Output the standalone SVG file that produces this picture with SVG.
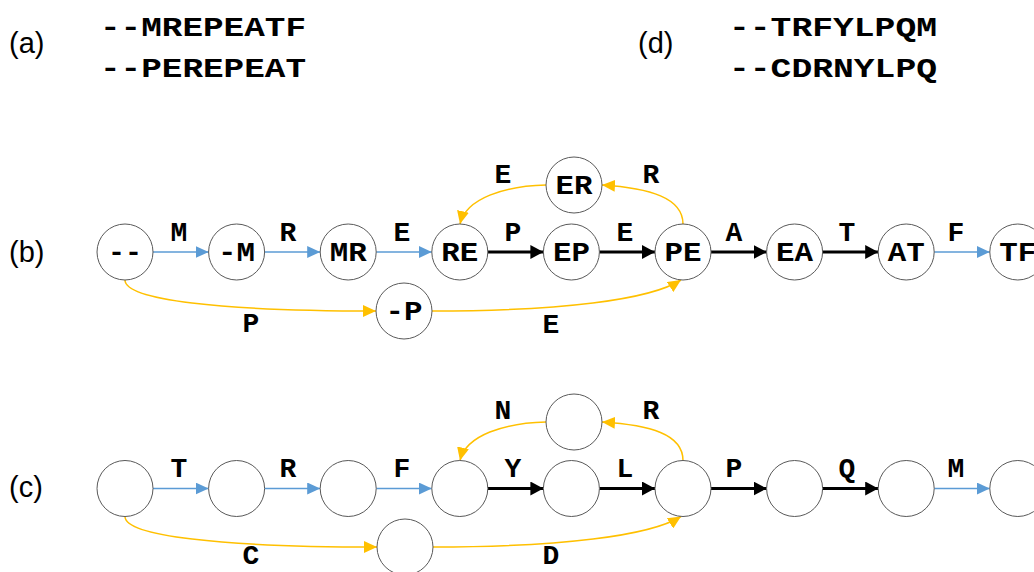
<svg xmlns="http://www.w3.org/2000/svg" width="1034" height="572" viewBox="0 0 1034 572">
  <style>
    .panel { font-family: "Liberation Sans", Arial, sans-serif; font-size: 29px; fill: #000; }
    .seq { font-family: "Liberation Mono", "Courier New", monospace; font-weight: bold; font-size: 28px; fill: #000; }
    .lbl { font-family: "Liberation Mono", "Courier New", monospace; font-weight: bold; font-size: 28px; fill: #000; text-anchor: middle; }
    .node circle { fill: #fff; stroke: #595959; stroke-width: 1; }
    .blue { stroke: #5B9BD5; stroke-width: 1.5; fill: none; marker-end: url(#hb); }
    .blk { stroke: #000; stroke-width: 3; fill: none; marker-end: url(#hk); }
    .org { stroke: #FFC000; stroke-width: 1.5; fill: none; marker-end: url(#ho); }
  </style>
  <defs>
    <marker id="hb" markerUnits="userSpaceOnUse" markerWidth="14" markerHeight="12" refX="13" refY="6" orient="auto">
      <path d="M0,0 L13,6 L0,12 z" fill="#5B9BD5"/>
    </marker>
    <marker id="hk" markerUnits="userSpaceOnUse" markerWidth="14" markerHeight="14" refX="13" refY="7" orient="auto">
      <path d="M0,0 L13,7 L0,14 z" fill="#000"/>
    </marker>
    <marker id="ho" markerUnits="userSpaceOnUse" markerWidth="14" markerHeight="12" refX="13" refY="6" orient="auto">
      <path d="M0,0 L13,6 L0,12 z" fill="#FFC000"/>
    </marker>
  </defs>

  <!-- panel letters and sequences -->
  <text class="panel" x="9" y="53">(a)</text>
  <text class="panel" x="9" y="262">(b)</text>
  <text class="panel" x="9" y="497">(c)</text>
  <text class="panel" x="638" y="53">(d)</text>
  <text class="seq" x="100" y="36" textLength="206" lengthAdjust="spacingAndGlyphs">--MREPEATF</text>
  <text class="seq" x="100" y="77" textLength="206" lengthAdjust="spacingAndGlyphs">--PEREPEAT</text>
  <text class="seq" x="729" y="36" textLength="208" lengthAdjust="spacingAndGlyphs">--TRFYLPQM</text>
  <text class="seq" x="729" y="77" textLength="208" lengthAdjust="spacingAndGlyphs">--CDRNYLPQ</text>

  <!-- connectors -->
  <g id="connectors">
    <!-- row b -->
    <line class="blue" x1="153" y1="252" x2="208.6" y2="252"/>
    <line class="blue" x1="264.6" y1="252" x2="320.2" y2="252"/>
    <line class="blue" x1="376.2" y1="252" x2="431.8" y2="252"/>
    <line class="blk" x1="487.8" y1="252" x2="543.4" y2="252"/>
    <line class="blk" x1="599.4" y1="252" x2="655" y2="252"/>
    <line class="blk" x1="711" y1="252" x2="766.6" y2="252"/>
    <line class="blk" x1="822.6" y1="252" x2="878.2" y2="252"/>
    <line class="blue" x1="934.2" y1="252" x2="989.8" y2="252"/>
    <path class="org" d="M683,224 C683,198 650,188 602,185"/>
    <path class="org" d="M546,185 C505,186 466,198 460,224"/>
    <path class="org" d="M125,280 C125,300 220,311 376,311"/>
    <path class="org" d="M432,311 C560,311 650,300 681,280"/>
    <!-- row c -->
    <line class="blue" x1="153" y1="488.5" x2="208.6" y2="488.5"/>
    <line class="blue" x1="264.6" y1="488.5" x2="320.2" y2="488.5"/>
    <line class="blue" x1="376.2" y1="488.5" x2="431.8" y2="488.5"/>
    <line class="blk" x1="487.8" y1="488.5" x2="543.4" y2="488.5"/>
    <line class="blk" x1="599.4" y1="488.5" x2="655" y2="488.5"/>
    <line class="blk" x1="711" y1="488.5" x2="766.6" y2="488.5"/>
    <line class="blk" x1="822.6" y1="488.5" x2="878.2" y2="488.5"/>
    <line class="blue" x1="934.2" y1="488.5" x2="989.8" y2="488.5"/>
    <path class="org" d="M683,460.5 C683,434 650,425 602,422"/>
    <path class="org" d="M546,422 C505,423 466,435 460,460.5"/>
    <path class="org" d="M125,516.5 C125,536 220,547 377,547"/>
    <path class="org" d="M433,547 C560,547 650,536 681,516.5"/>

    <!-- edge labels row b -->
    <text class="lbl" x="179" y="241">M</text>
    <text class="lbl" x="288" y="241">R</text>
    <text class="lbl" x="402" y="241">E</text>
    <text class="lbl" x="513" y="241">P</text>
    <text class="lbl" x="625" y="241">E</text>
    <text class="lbl" x="734" y="241">A</text>
    <text class="lbl" x="847" y="241">T</text>
    <text class="lbl" x="956" y="241">F</text>
    <text class="lbl" x="503" y="183">E</text>
    <text class="lbl" x="651" y="183">R</text>
    <text class="lbl" x="251" y="332">P</text>
    <text class="lbl" x="551" y="333">E</text>
    <!-- edge labels row c -->
    <text class="lbl" x="179" y="477">T</text>
    <text class="lbl" x="288" y="477">R</text>
    <text class="lbl" x="402" y="477">F</text>
    <text class="lbl" x="513" y="477">Y</text>
    <text class="lbl" x="625" y="477">L</text>
    <text class="lbl" x="734" y="477">P</text>
    <text class="lbl" x="847" y="477">Q</text>
    <text class="lbl" x="956" y="477">M</text>
    <text class="lbl" x="503" y="419">N</text>
    <text class="lbl" x="651" y="419">R</text>
    <text class="lbl" x="251" y="564">C</text>
    <text class="lbl" x="551" y="564">D</text>
  </g>

  <!-- row b nodes -->
  <g id="b-dd" class="node"><circle cx="125" cy="252" r="28"/><text class="lbl" x="125" y="261" textLength="34" lengthAdjust="spacingAndGlyphs">--</text></g>
  <g id="b-dM" class="node"><circle cx="236.6" cy="252" r="28"/><text class="lbl" x="236.6" y="261" textLength="37" lengthAdjust="spacingAndGlyphs">-M</text></g>
  <g id="b-MR" class="node"><circle cx="348.2" cy="252" r="28"/><text class="lbl" x="348.2" y="261" textLength="37" lengthAdjust="spacingAndGlyphs">MR</text></g>
  <g id="b-RE" class="node"><circle cx="459.8" cy="252" r="28"/><text class="lbl" x="459.8" y="261" textLength="37" lengthAdjust="spacingAndGlyphs">RE</text></g>
  <g id="b-EP" class="node"><circle cx="571.4" cy="252" r="28"/><text class="lbl" x="571.4" y="261" textLength="37" lengthAdjust="spacingAndGlyphs">EP</text></g>
  <g id="b-PE" class="node"><circle cx="683" cy="252" r="28"/><text class="lbl" x="683" y="261" textLength="37" lengthAdjust="spacingAndGlyphs">PE</text></g>
  <g id="b-EA" class="node"><circle cx="794.6" cy="252" r="28"/><text class="lbl" x="794.6" y="261" textLength="37" lengthAdjust="spacingAndGlyphs">EA</text></g>
  <g id="b-AT" class="node"><circle cx="906.2" cy="252" r="28"/><text class="lbl" x="906.2" y="261" textLength="37" lengthAdjust="spacingAndGlyphs">AT</text></g>
  <g id="b-TF" class="node"><circle cx="1017.8" cy="252" r="28"/><text class="lbl" x="1017.8" y="261" textLength="37" lengthAdjust="spacingAndGlyphs">TF</text></g>
  <g id="b-ER" class="node"><circle cx="574" cy="185" r="28"/><text class="lbl" x="574" y="194" textLength="37" lengthAdjust="spacingAndGlyphs">ER</text></g>
  <g id="b-dP" class="node"><circle cx="404" cy="311" r="28"/><text class="lbl" x="404" y="320" textLength="37" lengthAdjust="spacingAndGlyphs">-P</text></g>

  <!-- row c nodes -->
  <g id="c-1" class="node"><circle cx="125" cy="488.5" r="28"/></g>
  <g id="c-2" class="node"><circle cx="236.6" cy="488.5" r="28"/></g>
  <g id="c-3" class="node"><circle cx="348.2" cy="488.5" r="28"/></g>
  <g id="c-4" class="node"><circle cx="459.8" cy="488.5" r="28"/></g>
  <g id="c-5" class="node"><circle cx="571.4" cy="488.5" r="28"/></g>
  <g id="c-6" class="node"><circle cx="683" cy="488.5" r="28"/></g>
  <g id="c-7" class="node"><circle cx="794.6" cy="488.5" r="28"/></g>
  <g id="c-8" class="node"><circle cx="906.2" cy="488.5" r="28"/></g>
  <g id="c-9" class="node"><circle cx="1017.8" cy="488.5" r="28"/></g>
  <g id="c-top" class="node"><circle cx="574" cy="422" r="28"/></g>
  <g id="c-bot" class="node"><circle cx="405" cy="547" r="28"/></g>
</svg>
